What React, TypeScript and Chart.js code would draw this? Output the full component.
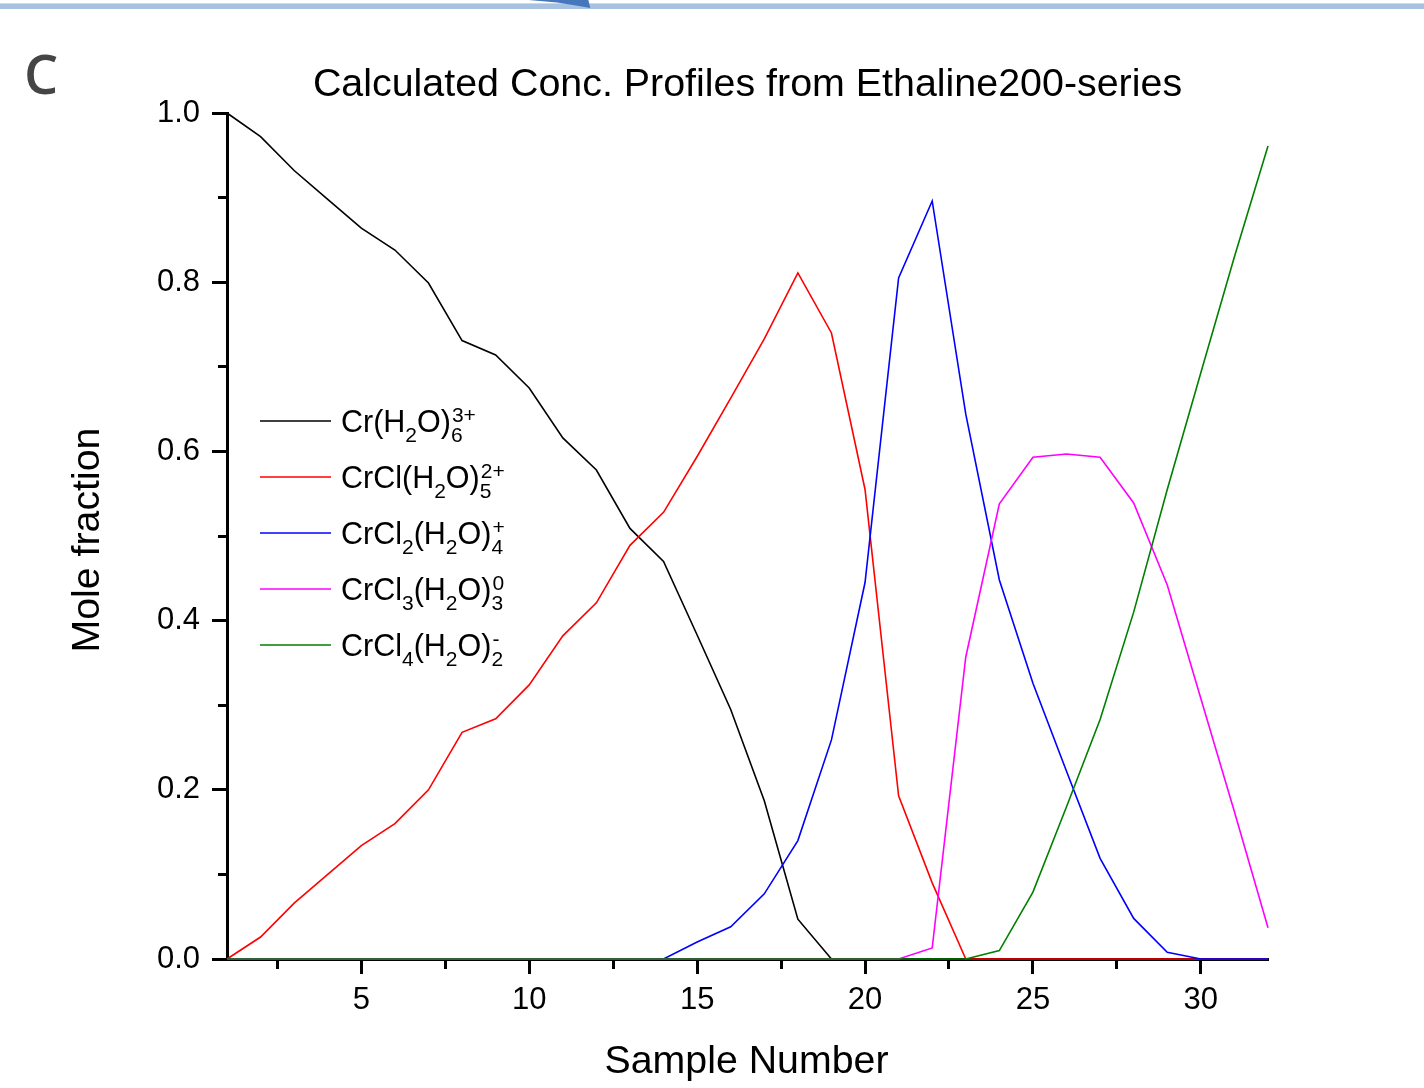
import React, { useEffect, useRef } from 'react';
import { Chart, registerables } from 'chart.js';

Chart.register(...registerables);

// ---------- data ----------
const sampleNumbers = [1, 2, 3, 4, 5, 6, 7, 8, 9, 10, 11, 12, 13, 14, 15, 16, 17, 18, 19, 20, 21, 22, 23, 24, 25, 26, 27, 28, 29, 30, 31, 32];

const crH2O6 = [1.0, 0.972, 0.932, 0.898, 0.864, 0.838, 0.799, 0.731, 0.714, 0.675, 0.616, 0.578, 0.509, 0.47, 0.383, 0.295, 0.187, 0.047, 0, 0, 0, 0, 0, 0, 0, 0, 0, 0, 0, 0, 0, 0];
const crClH2O5 = [0, 0.026, 0.066, 0.1, 0.134, 0.16, 0.2, 0.268, 0.284, 0.324, 0.382, 0.421, 0.489, 0.528, 0.594, 0.663, 0.733, 0.811, 0.74, 0.555, 0.193, 0.09, 0, 0, 0, 0, 0, 0, 0, 0, 0, 0];
const crCl2H2O4 = [0, 0, 0, 0, 0, 0, 0, 0, 0, 0, 0, 0, 0, 0, 0.02, 0.038, 0.077, 0.14, 0.259, 0.445, 0.805, 0.896, 0.644, 0.448, 0.326, 0.222, 0.119, 0.048, 0.008, 0, 0, 0];
const crCl3H2O3 = [0, 0, 0, 0, 0, 0, 0, 0, 0, 0, 0, 0, 0, 0, 0, 0, 0, 0, 0, 0, 0, 0.013, 0.357, 0.538, 0.593, 0.597, 0.593, 0.539, 0.442, 0.308, 0.174, 0.037];
const crCl4H2O2 = [0, 0, 0, 0, 0, 0, 0, 0, 0, 0, 0, 0, 0, 0, 0, 0, 0, 0, 0, 0, 0, 0, 0, 0.01, 0.079, 0.18, 0.283, 0.41, 0.555, 0.693, 0.83, 0.961];

const xTickValues = [2.5, 5, 7.5, 10, 12.5, 15, 17.5, 20, 22.5, 25, 27.5, 30];
const xTickLabels = ['', '5', '', '10', '', '15', '', '20', '', '25', '', '30'];
const yTickValues = [0, 0.1, 0.2, 0.3, 0.4, 0.5, 0.6, 0.7, 0.8, 0.9, 1.0];
const yTickLabels = ['0.0', '', '0.2', '', '0.4', '', '0.6', '', '0.8', '', '1.0'];

const titleText = 'Calculated Conc. Profiles from Ethaline200-series';
const xTitle = 'Sample Number';
const yTitle = 'Mole fraction';
const panelLetter = 'C';

type Seg = { t?: string; sub?: string; sup?: string };
const legend1: Seg[] = [{ t: 'Cr(H' }, { sub: '2' }, { t: 'O)' }, { sub: '6', sup: '3+' }];
const legend2: Seg[] = [{ t: 'CrCl(H' }, { sub: '2' }, { t: 'O)' }, { sub: '5', sup: '2+' }];
const legend3: Seg[] = [{ t: 'CrCl' }, { sub: '2' }, { t: '(H' }, { sub: '2' }, { t: 'O)' }, { sub: '4', sup: '+' }];
const legend4: Seg[] = [{ t: 'CrCl' }, { sub: '3' }, { t: '(H' }, { sub: '2' }, { t: 'O)' }, { sub: '3', sup: '0' }];
const legend5: Seg[] = [{ t: 'CrCl' }, { sub: '4' }, { t: '(H' }, { sub: '2' }, { t: 'O)' }, { sub: '2', sup: '-' }];

const seriesColors = ['#000000', '#ff0000', '#0000ff', '#ff00ff', '#008000'];

// ---------- styling ----------
const FONT = '"Liberation Sans", Arial, Helvetica, sans-serif';

const textPlugin = {
  id: 'textPlugin',
  afterDraw(chart: any) {
    const { ctx, chartArea } = chart;
    const cx = (chartArea.left + chartArea.right) / 2;
    const cy = (chartArea.top + chartArea.bottom) / 2;
    ctx.save();
    ctx.fillStyle = '#000';
    ctx.textBaseline = 'alphabetic';
    ctx.textAlign = 'center';
    ctx.font = `39.4px ${FONT}`;
    ctx.fillText(titleText, cx, 96);
    ctx.font = `39.3px ${FONT}`;
    ctx.fillText(xTitle, cx - 1, 1073);

    ctx.save();
    ctx.translate(99, cy + 4);
    ctx.rotate(-Math.PI / 2);
    ctx.fillText(yTitle, 0, 0);
    ctx.restore();

    // panel letter
    ctx.textAlign = 'left';
    ctx.fillStyle = '#454545';
    ctx.font = `600 54px "Open Sans", ${FONT}`;
    ctx.fillText(panelLetter, 24, 94);

    // legend
    const labels = [legend1, legend2, legend3, legend4, legend5];
    ctx.fillStyle = '#000';
    labels.forEach((segs, i) => {
      const y = 421 + i * 56;
      ctx.beginPath();
      ctx.strokeStyle = seriesColors[i];
      ctx.lineWidth = 1.5;
      ctx.moveTo(260, y);
      ctx.lineTo(331, y);
      ctx.stroke();
      let x = 341;
      segs.forEach((s) => {
        if (s.t) {
          ctx.font = `30.5px ${FONT}`;
          ctx.fillText(s.t, x, y + 11);
          x += ctx.measureText(s.t).width;
        } else {
          ctx.font = `21px ${FONT}`;
          let w = 0;
          if (s.sub) {
            ctx.fillText(s.sub, x, y + 21);
            w = Math.max(w, ctx.measureText(s.sub).width);
          }
          if (s.sup) {
            ctx.fillText(s.sup, x + 1, y + 1);
            w = Math.max(w, ctx.measureText(s.sup).width + 1);
          }
          x += w;
        }
      });
    });
    ctx.restore();
  },
};

export default function App() {
  const canvasRef = useRef<HTMLCanvasElement | null>(null);

  useEffect(() => {
    if (!canvasRef.current) return;
    const series = [crH2O6, crClH2O5, crCl2H2O4, crCl3H2O3, crCl4H2O2];
    const names = ['Cr(H2O)6 3+', 'CrCl(H2O)5 2+', 'CrCl2(H2O)4 +', 'CrCl3(H2O)3 0', 'CrCl4(H2O)2 -'];
    const chart = new Chart(canvasRef.current, {
      type: 'line',
      data: {
        datasets: series.map((vals, i) => ({
          label: names[i],
          data: sampleNumbers.map((x, j) => ({ x, y: vals[j] })),
          borderColor: seriesColors[i],
          backgroundColor: seriesColors[i],
          borderWidth: 1.6,
          pointRadius: 0,
          tension: 0,
          fill: false,
          clip: false as any,
          order: 5 - i,
        })),
      },
      options: {
        animation: false,
        responsive: false,
        devicePixelRatio: 1,
        layout: { padding: { top: 113, right: 156, left: 0, bottom: 0 } },
        plugins: {
          legend: { display: false },
          tooltip: { enabled: false },
          title: { display: false },
        },
        scales: {
          x: {
            type: 'linear',
            min: 1,
            max: 32,
            afterBuildTicks: (s: any) => {
              s.ticks = xTickValues.map((v) => ({ value: v }));
            },
            afterFit: (s: any) => {
              s.height = 129;
            },
            ticks: {
              autoSkip: false,
              maxRotation: 0,
              padding: 8,
              color: '#000',
              font: { family: FONT, size: 31 },
              callback: (_v: any, idx: number) => xTickLabels[idx],
            },
            grid: {
              drawOnChartArea: false,
              drawTicks: true,
              tickLength: 15,
              tickWidth: 3,
              tickColor: '#000',
              tickBorderDash: (ctx: any) => (xTickLabels[ctx.index] === '' ? [8, 100] : []),
            },
            border: { display: true, color: '#000', width: 3 },
          },
          y: {
            type: 'linear',
            min: 0,
            max: 1,
            afterBuildTicks: (s: any) => {
              s.ticks = yTickValues.map((v) => ({ value: v }));
            },
            afterFit: (s: any) => {
              s.width = 227;
            },
            ticks: {
              autoSkip: false,
              padding: 12,
              color: '#000',
              font: { family: FONT, size: 31 },
              callback: (_v: any, idx: number) => yTickLabels[idx],
            },
            grid: {
              drawOnChartArea: false,
              drawTicks: true,
              tickLength: 15,
              tickWidth: 3,
              tickColor: '#000',
              tickBorderDash: (ctx: any) => (yTickLabels[ctx.index] === '' ? [0, 6, 20, 100] : []),
            },
            border: { display: true, color: '#000', width: 3 },
          },
        },
      },
      plugins: [textPlugin],
    } as any);
    return () => chart.destroy();
  }, []);

  return (
    <div style={{ position: 'fixed', left: 0, top: 0, width: 1424, height: 1088, background: '#fff', overflow: 'hidden' }}>
      <div style={{ position: 'absolute', left: 0, top: 3, width: 1424, height: 5, background: '#a7c2e0', borderTop: '1px solid #c9daee' }} />
      <div
        style={{
          position: 'absolute',
          left: 500,
          top: 0,
          width: 95,
          height: 10,
          background: '#4677bd',
          clipPath: 'polygon(30% 0, 93% 0, 95% 80%, 80% 55%, 60% 25%)',
        }}
      />
      <canvas ref={canvasRef} width={1424} height={1088} style={{ position: 'absolute', left: 0, top: 0 }} />
    </div>
  );
}
